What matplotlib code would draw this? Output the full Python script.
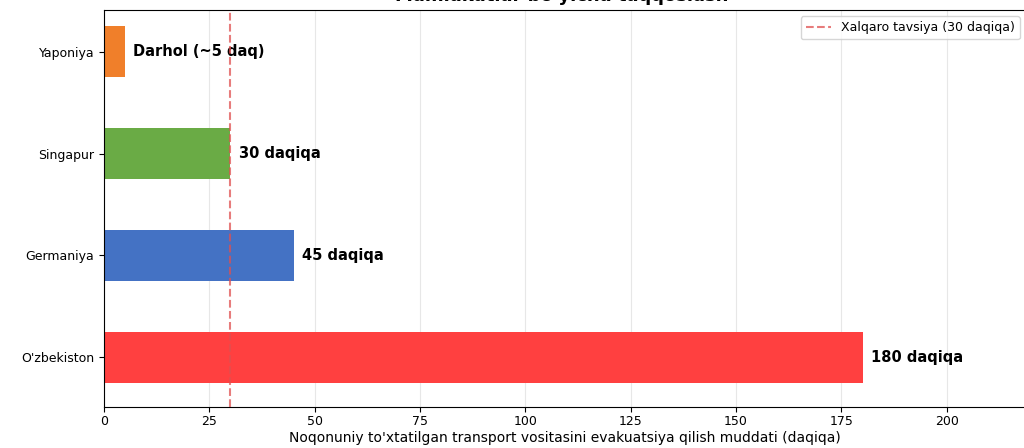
import matplotlib
matplotlib.use("Agg")
import matplotlib.pyplot as plt

countries = ["O'zbekiston", "Germaniya", "Singapur", "Yaponiya"]
minutes = [180, 45, 30, 5]
labels = ["180 daqiqa", "45 daqiqa", "30 daqiqa", "Darhol (~5 daq)"]
colors = ["#FF4040", "#4472C4", "#6AAB45", "#F07F2A"]
recommendation = 30

fig = plt.figure(figsize=(10.24, 4.48), dpi=100)
ax = fig.add_axes([104/1024, 1 - 407/448, 922/1024, (407 - 10)/448])

y = list(range(len(countries)))
ax.barh(y, minutes, height=0.5, color=colors, zorder=2)
for yi, v, lab in zip(y, minutes, labels):
    ax.text(v + 2, yi, lab, va="center", ha="left", fontsize=10.5, fontweight="bold")

ax.axvline(recommendation, color="#E05050", linestyle="--", linewidth=1.5, alpha=0.75,
           label="Xalqaro tavsiya (30 daqiqa)", zorder=3)

ax.set_yticks(y)
ax.set_yticklabels(countries, fontsize=9)
ax.set_xlim(0, 218.8)
ax.set_ylim(-0.49, 3.41)
ax.set_xticks([0, 25, 50, 75, 100, 125, 150, 175, 200])
ax.tick_params(axis="x", labelsize=9, pad=2.5)
ax.grid(axis="x", color="#dddddd", linewidth=0.8, alpha=0.7, zorder=0)
ax.set_axisbelow(True)
ax.set_xlabel("Noqonuniy to'xtatilgan transport vositasini evakuatsiya qilish muddati (daqiqa)",
              fontsize=10, labelpad=2)
ax.legend(loc="upper right", fontsize=9)

fig.text(0.549, 1.0 + 0.03, "Mamlakatlar bo'yicha taqqoslash", ha="center", va="top",
         fontsize=13, fontweight="bold")

fig.savefig("out.png", dpi=100)
